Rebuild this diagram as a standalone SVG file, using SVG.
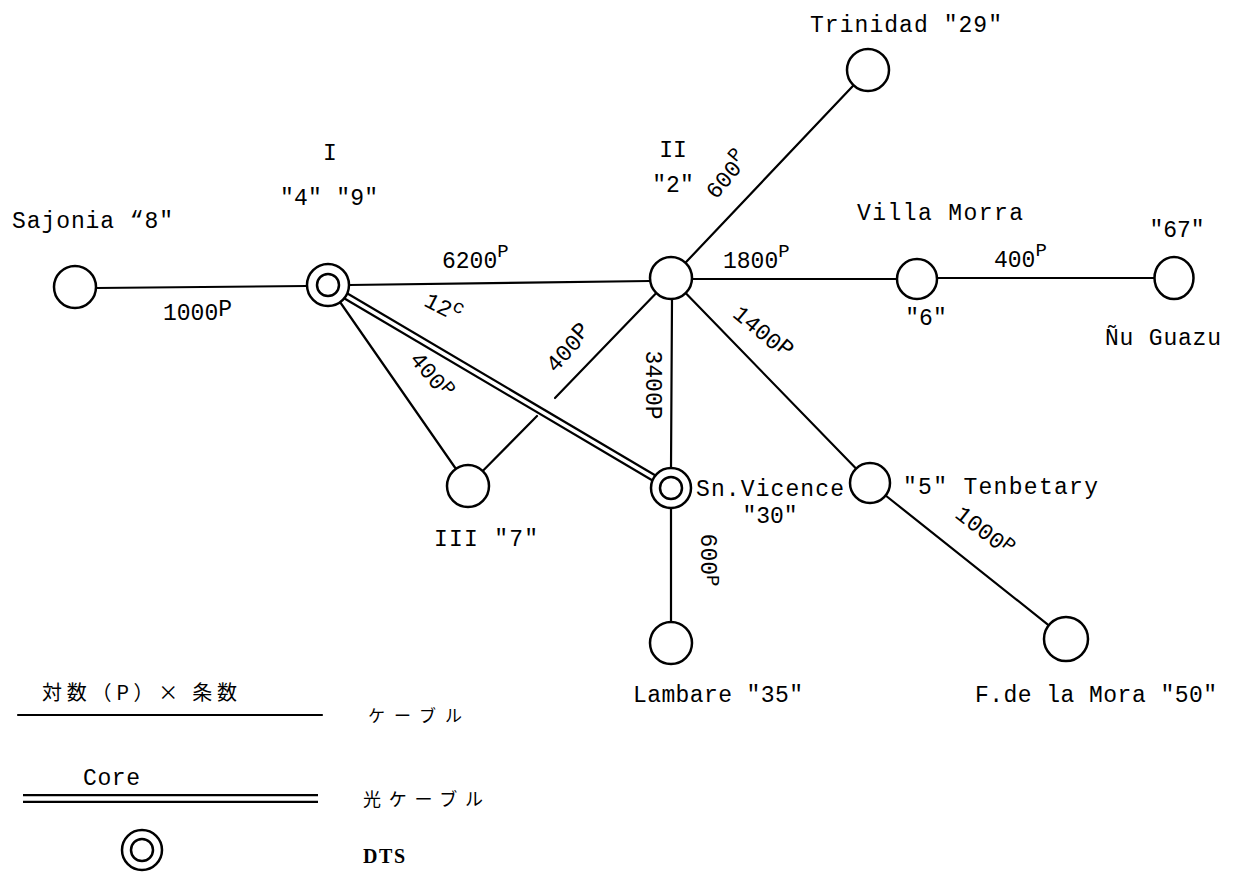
<svg xmlns="http://www.w3.org/2000/svg" width="1235" height="873" viewBox="0 0 1235 873">
<style>
.ln{stroke:#000;stroke-width:2.2;fill:none;stroke-linecap:round}
.dbo{stroke:#000;stroke-width:8;fill:none}
.dbi{stroke:#fff;stroke-width:3.6;fill:none}
.nd{fill:#fff;stroke:#000;stroke-width:2.5}
.t{font-family:"Liberation Mono","DejaVu Sans Mono",monospace;font-size:23px;fill:#000}
.e{font-family:"Liberation Mono","DejaVu Sans Mono",monospace;font-size:23px;fill:#000}
.sup{font-size:19px}
.j{font-family:"Noto Sans CJK JP","Noto Sans CJK SC",sans-serif;fill:#000}
.s{font-family:"Liberation Serif",serif;font-weight:bold;font-size:20px;fill:#000}
</style>
<rect width="1235" height="873" fill="#fff"/>
<g id="connectors">
  <line class="ln" x1="96" y1="288" x2="307" y2="286"/>
  <line class="ln" x1="349" y1="285" x2="650" y2="281"/>
  <line class="ln" x1="685.4" y1="262.8" x2="853.6" y2="85.2"/>
  <line class="ln" x1="692" y1="279" x2="897" y2="279"/>
  <line class="ln" x1="937" y1="278" x2="1155" y2="278"/>
  <line class="ln" x1="340" y1="302" x2="456" y2="469"/>
  <line class="ln" x1="482.7" y1="471" x2="537" y2="416"/>
  <line class="ln" x1="555" y1="398" x2="656.3" y2="293"/>
  <line class="ln" x1="672" y1="299" x2="671" y2="468"/>
  <line class="ln" x1="685.6" y1="293" x2="856" y2="468.6"/>
  <line class="ln" x1="885.6" y1="495.5" x2="1048.8" y2="625.3"/>
  <line class="ln" x1="671" y1="508" x2="671" y2="622"/>
  <line class="dbo" x1="346" y1="296" x2="654" y2="478"/>
  <line class="dbi" x1="346" y1="296" x2="654" y2="478"/>
</g>
<g id="edge-labels">
  <text class="e" x="163" y="320">1000<tspan dy="-4">P</tspan></text>
  <text class="e" x="442" y="268">6200<tspan class="sup" dy="-11">P</tspan></text>
  <text class="e" x="723" y="268">1800<tspan class="sup" dy="-11">P</tspan></text>
  <text class="e" x="994" y="267">400<tspan class="sup" dy="-11">P</tspan></text>
  <text class="e" text-anchor="middle" transform="translate(440,314) rotate(27)">12<tspan class="sup" dy="-9">c</tspan></text>
  <text class="e" text-anchor="middle" transform="translate(426,380) rotate(50)">400<tspan class="sup" dy="-6">P</tspan></text>
  <text class="e" text-anchor="middle" transform="translate(574,353) rotate(-48)">400<tspan dy="-3">P</tspan></text>
  <text class="e" text-anchor="middle" transform="translate(646,385) rotate(90)">3400P</text>
  <text class="e" text-anchor="middle" transform="translate(733,180) rotate(-50)">600<tspan class="sup" dy="-9">P</tspan></text>
  <text class="e" text-anchor="middle" transform="translate(758,338) rotate(40)">1400<tspan dy="-3">P</tspan></text>
  <text class="e" text-anchor="middle" transform="translate(980,537) rotate(38)">1000<tspan class="sup" dy="-6">P</tspan></text>
  <text class="e" text-anchor="middle" transform="translate(701,560) rotate(90)">600<tspan class="sup" dy="-6">P</tspan></text>
</g>
<g id="node-sajonia">
  <circle class="nd" cx="75" cy="287" r="21"/>
  <text class="t" x="12" y="228" textLength="161">Sajonia “8"</text>
</g>
<g id="node-I">
  <circle class="nd" cx="328" cy="285" r="21"/>
  <circle class="nd" cx="328" cy="285" r="11"/>
  <text class="t" x="330" y="160" text-anchor="middle">I</text>
  <text class="t" x="280" y="205" textLength="98">"4" "9"</text>
</g>
<g id="node-II">
  <circle class="nd" cx="671" cy="278" r="21"/>
  <text class="t" x="673" y="157" text-anchor="middle">II</text>
  <text class="t" x="673" y="192" text-anchor="middle">"2"</text>
</g>
<g id="node-trinidad">
  <circle class="nd" cx="868" cy="70" r="21"/>
  <text class="t" x="810" y="32" textLength="192">Trinidad "29"</text>
</g>
<g id="node-villa-morra">
  <circle class="nd" cx="917" cy="279" r="20"/>
  <text class="t" x="857" y="220" textLength="166">Villa Morra</text>
  <text class="t" x="926" y="325" text-anchor="middle">"6"</text>
</g>
<g id="node-nu-guazu">
  <ellipse class="nd" cx="1174" cy="278" rx="19.5" ry="21"/>
  <text class="t" x="1177" y="237" text-anchor="middle">"67"</text>
  <text class="t" x="1105" y="345" textLength="116">Ñu Guazu</text>
</g>
<g id="node-III">
  <circle class="nd" cx="468" cy="486" r="21"/>
  <text class="t" x="434" y="546" textLength="104">III "7"</text>
</g>
<g id="node-sn-vicence">
  <circle class="nd" cx="671" cy="488" r="20"/>
  <circle class="nd" cx="671" cy="488" r="11"/>
  <text class="t" x="696" y="496" textLength="148">Sn.Vicence</text>
  <text class="t" x="770" y="523" text-anchor="middle">"30"</text>
</g>
<g id="node-tenbetary">
  <circle class="nd" cx="870" cy="483" r="20"/>
  <text class="t" x="903" y="494" textLength="195">"5" Tenbetary</text>
</g>
<g id="node-lambare">
  <circle class="nd" cx="671" cy="643" r="21"/>
  <text class="t" x="633" y="702" textLength="170">Lambare "35"</text>
</g>
<g id="node-fdelamora">
  <circle class="nd" cx="1066" cy="639" r="22"/>
  <text class="t" x="975" y="702" textLength="242">F.de la Mora "50"</text>
</g>
<g id="legend">
  <text class="j" x="42" y="700" font-size="20" textLength="195">対数（P）× 条数</text>
  <line class="ln" x1="18" y1="715" x2="322" y2="715"/>
  <text class="j" x="368" y="722" font-size="17" textLength="94">ケーブル</text>
  <text class="t" x="83" y="785" textLength="57">Core</text>
  <line class="dbo" x1="23" y1="798.5" x2="318" y2="798.5" style="stroke-width:9"/>
  <line class="dbi" x1="23" y1="798.5" x2="318" y2="798.5" style="stroke-width:4.6"/>
  <text class="j" x="363" y="806" font-size="18" textLength="120">光ケーブル</text>
  <circle class="nd" cx="142" cy="850" r="20"/>
  <circle class="nd" cx="142" cy="850" r="11"/>
  <text class="s" x="363" y="863" textLength="42">DTS</text>
</g>
</svg>
